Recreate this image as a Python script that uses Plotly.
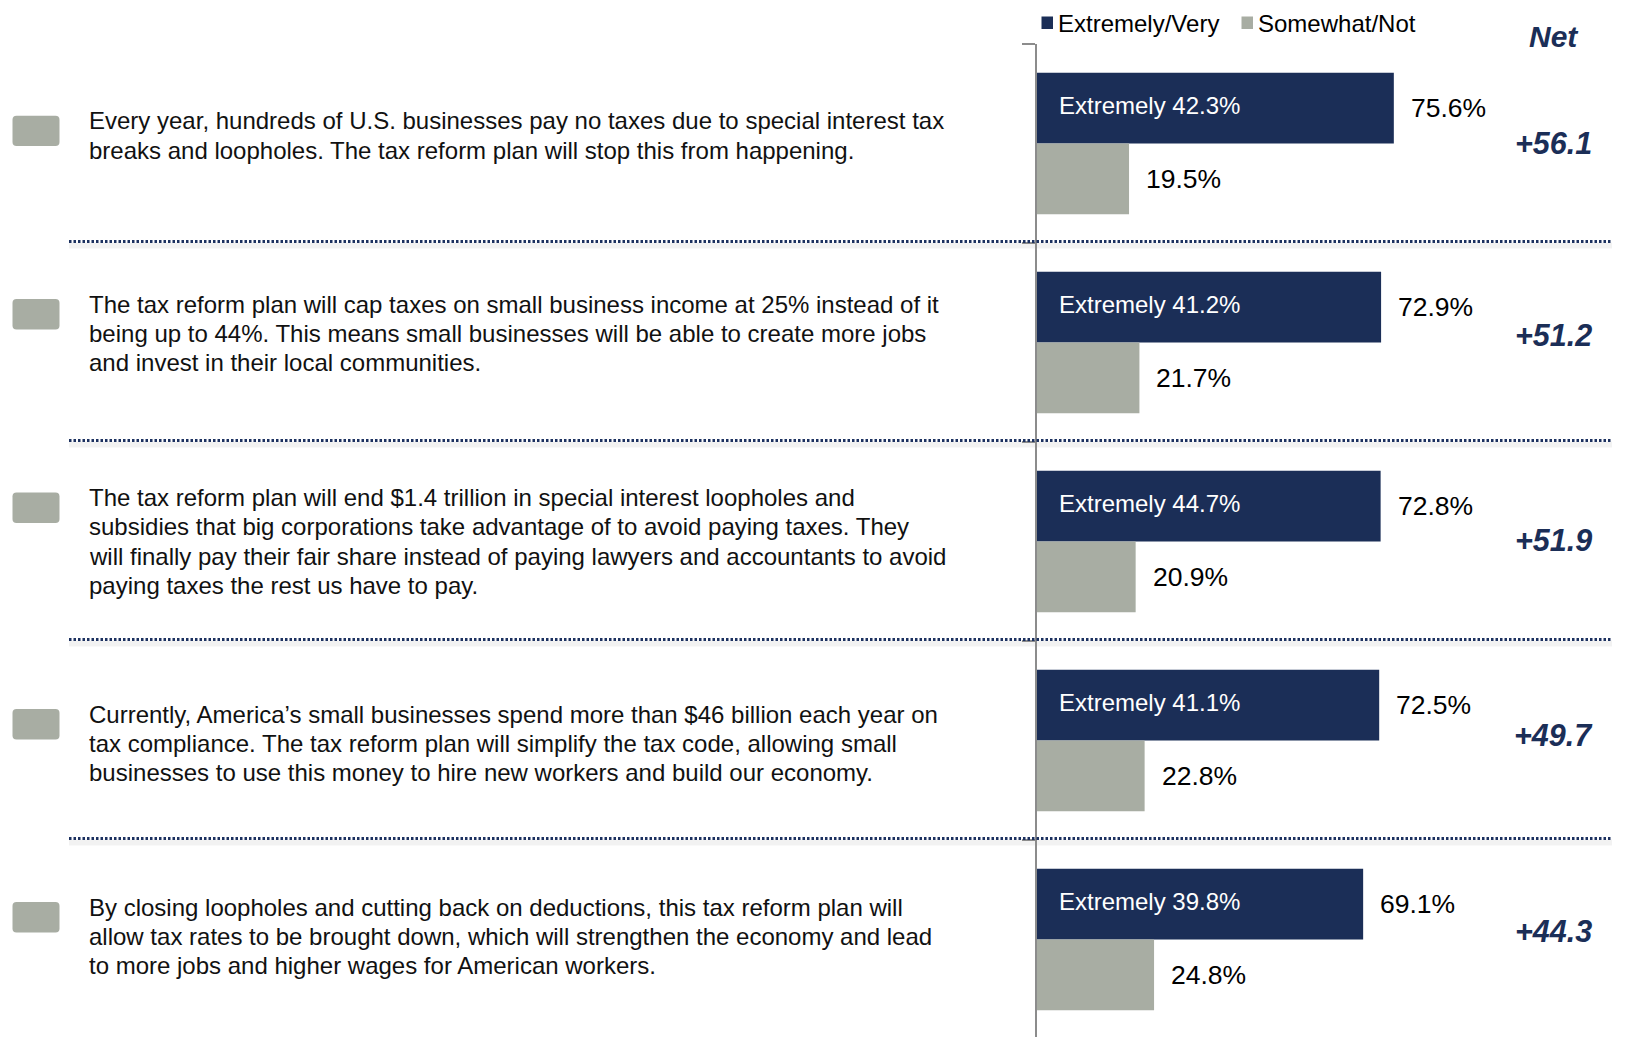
import plotly.graph_objects as go

# ---------------- data ----------------
categories = ["S1", "S2", "S3", "S4", "S5"]
statements = [
    ["Every year, hundreds of U.S. businesses pay no taxes due to special interest tax",
     "breaks and loopholes. The tax reform plan will stop this from happening."],
    ["The tax reform plan will cap taxes on small business income at 25% instead of it",
     "being up to 44%. This means small businesses will be able to create more jobs",
     "and invest in their local communities."],
    ["The tax reform plan will end $1.4 trillion in special interest loopholes and",
     "subsidies that big corporations take advantage of to avoid paying taxes. They",
     "will finally pay their fair share instead of paying lawyers and accountants to avoid",
     "paying taxes the rest us have to pay."],
    ["Currently, America\u2019s small businesses spend more than $46 billion each year on",
     "tax compliance. The tax reform plan will simplify the tax code, allowing small",
     "businesses to use this money to hire new workers and build our economy."],
    ["By closing loopholes and cutting back on deductions, this tax reform plan will",
     "allow tax rates to be brought down, which will strengthen the economy and lead",
     "to more jobs and higher wages for American workers."],
]
extremely_very = [75.6, 72.9, 72.8, 72.5, 69.1]
somewhat_not = [19.5, 21.7, 20.9, 22.8, 24.8]
extremely = [42.3, 41.2, 44.7, 41.1, 39.8]
net = [56.1, 51.2, 51.9, 49.7, 44.3]
series_names = ["Extremely/Very", "Somewhat/Not"]

# ---------------- style / layout ----------------
OFF = 8                   # page body margin
W, H = 1633 - OFF, 1037 - OFF
SL, ST = 1037, 44         # plot area left / top in screen px
L, T = SL - OFF, ST - OFF
PX_PER_PCT = 4.72
PITCH = 199.0
NAVY = "#1b2e57"
GRAY = "#a8ada3"
FONT = "Liberation Sans, Arial, sans-serif"
LINE = 29.2
TEXT_DY = [-8, -9, 0, 3, -3]
NET_DY = [0, -8, -2, -6, -9]
LEG_Y = 23


def px_x(sx):
    return (sx - SL) / (W - L)


def px_y(sy):
    return (1037 - sy) / (H - T)


def gc(i):
    return ST + (i + 0.5) * PITCH


fig = go.Figure()
fig.add_trace(go.Bar(y=categories, x=extremely_very, orientation="h", name=series_names[0],
                     marker=dict(color=NAVY, line=dict(width=0)), hoverinfo="x"))
fig.add_trace(go.Bar(y=categories, x=somewhat_not, orientation="h", name=series_names[1],
                     marker=dict(color=GRAY, line=dict(width=0)), hoverinfo="x"))

ann = []
shapes = []
half = PITCH * (1 - 0.288) / 4  # center offset of each bar within group

for i, cat in enumerate(categories):
    ann.append(dict(xref="x", yref="y", x=extremely_very[i], y=cat, xanchor="left", yanchor="middle",
                    xshift=15, yshift=half, text=f"{extremely_very[i]:.1f}%", showarrow=False,
                    font=dict(size=26.5, color="#000000", family=FONT)))
    ann.append(dict(xref="x", yref="y", x=somewhat_not[i], y=cat, xanchor="left", yanchor="middle",
                    xshift=15, yshift=-half, text=f"{somewhat_not[i]:.1f}%", showarrow=False,
                    font=dict(size=26.5, color="#000000", family=FONT)))
    ann.append(dict(xref="x", yref="y", x=0, y=cat, xanchor="left", yanchor="middle",
                    xshift=20, yshift=half + 3, text=f"Extremely {extremely[i]:.1f}%", showarrow=False,
                    font=dict(size=24, color="#ffffff", family=FONT)))
    ann.append(dict(xref="paper", yref="paper", x=px_x(1553), y=px_y(gc(i) + NET_DY[i]),
                    xanchor="center", yanchor="middle", text=f"<b><i>+{net[i]:.1f}</i></b>",
                    showarrow=False, font=dict(size=30.5, color=NAVY, family=FONT)))
    lines = statements[i]
    n = len(lines)
    center = gc(i) + TEXT_DY[i]
    first = center - (n - 1) * LINE / 2
    for j, ln in enumerate(lines):
        ann.append(dict(xref="paper", yref="paper", x=px_x(87), y=px_y(first + j * LINE),
                        xanchor="left", yanchor="middle", text=ln, showarrow=False,
                        font=dict(size=24, color="#111111", family=FONT)))
    bx0, bx1 = 12.5, 59.5
    by = first + 10
    by0, by1 = by - 15.2, by + 15.2
    r = 4
    pts = [("M", bx0 + r, by0), ("L", bx1 - r, by0), ("Q", bx1, by0, bx1, by0 + r),
           ("L", bx1, by1 - r), ("Q", bx1, by1, bx1 - r, by1), ("L", bx0 + r, by1),
           ("Q", bx0, by1, bx0, by1 - r), ("L", bx0, by0 + r), ("Q", bx0, by0, bx0 + r, by0)]
    path = ""
    for p in pts:
        cmd = p[0]
        coords = p[1:]
        segs = []
        for k in range(0, len(coords), 2):
            segs.append(f"{px_x(coords[k]):.6f},{px_y(coords[k+1]):.6f}")
        path += cmd + " ".join(segs) + " "
    path += "Z"
    shapes.append(dict(type="path", xref="paper", yref="paper", path=path,
                       fillcolor=GRAY, line=dict(width=0), layer="above"))

for i in range(len(categories) - 1):
    yb = gc(i) + PITCH / 2 - 1.5
    shapes.append(dict(type="line", xref="paper", yref="paper", x0=px_x(69), x1=px_x(1612),
                       y0=px_y(yb + 4), y1=px_y(yb + 4),
                       line=dict(color="rgba(0,0,0,0.05)", width=6), layer="below"))
    shapes.append(dict(type="line", xref="paper", yref="paper", x0=px_x(69), x1=px_x(1612),
                       y0=px_y(yb), y1=px_y(yb),
                       line=dict(color="#1c3160", width=3, dash="2.5px,2px"), layer="above"))

for sx, col, name in [(1041.5, NAVY, series_names[0]), (1241.5, GRAY, series_names[1])]:
    shapes.append(dict(type="rect", xref="paper", yref="paper", x0=px_x(sx), x1=px_x(sx + 11.5),
                       y0=px_y(LEG_Y + 6), y1=px_y(LEG_Y - 6.5), fillcolor=col, line=dict(width=0)))
    ann.append(dict(xref="paper", yref="paper", x=px_x(sx + 15), y=px_y(LEG_Y), xanchor="left",
                    yanchor="middle", text=name, showarrow=False, borderpad=0,
                    font=dict(size=24, color="#000000", family=FONT)))

ann.append(dict(xref="paper", yref="paper", x=px_x(1553.5), y=px_y(36.5), xanchor="center",
                yanchor="middle", text="<b><i>Net</i></b>", showarrow=False,
                font=dict(size=30, color=NAVY, family=FONT)))

fig.update_layout(
    width=W, height=H,
    margin=dict(l=L, r=0, t=T, b=0, pad=0),
    barmode="group", bargap=0.288, bargroupgap=0,
    plot_bgcolor="white", paper_bgcolor="white",
    showlegend=False,
    xaxis=dict(range=[0, (W - L) / PX_PER_PCT], visible=False, fixedrange=True),
    yaxis=dict(type="category", categoryorder="array", categoryarray=categories,
               range=[-0.5 + (H - T) / PITCH, -0.5],
               showline=True, linecolor="#8c8c8c", linewidth=1.5,
               ticks="outside", tickson="boundaries", ticklen=13, tickcolor="#8c8c8c", tickwidth=1.5,
               showticklabels=False, showgrid=False, zeroline=False, fixedrange=True),
    annotations=ann, shapes=shapes,
    font=dict(family=FONT),
)

fig.write_html("out.html")
